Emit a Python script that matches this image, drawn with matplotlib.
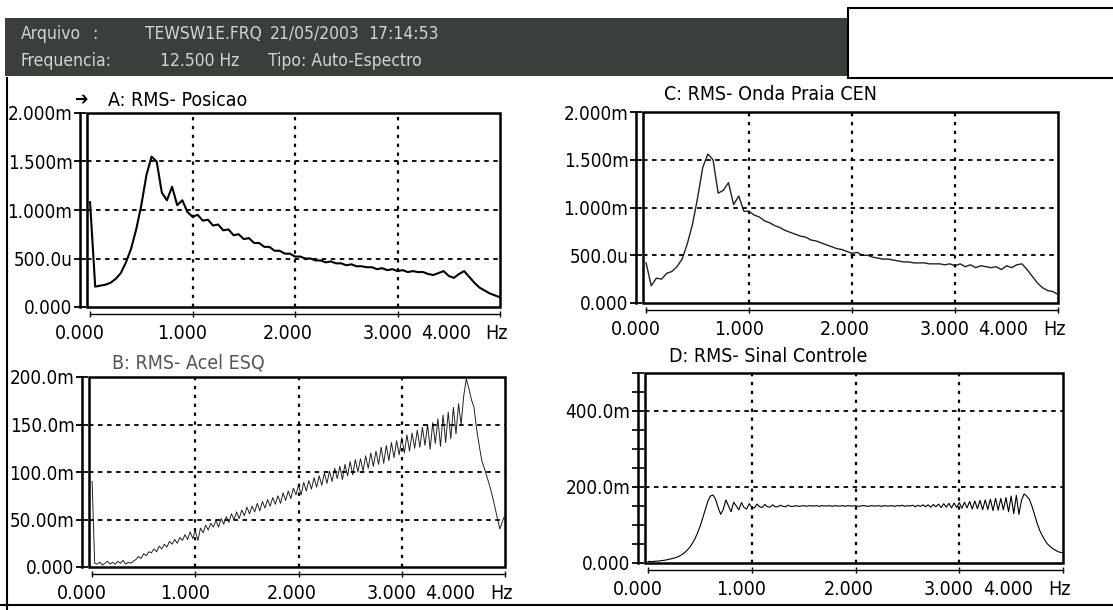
import numpy as np
import matplotlib
matplotlib.use("Agg")
import matplotlib.pyplot as plt
from matplotlib.patches import Rectangle

plt.rcParams["font.family"] = ["DejaVu Sans"]
plt.rcParams["font.stretch"] = "condensed"

W, H = 1113, 610

# --- dados (espectros RMS, 0 a 4 Hz) ---
# A: RMS- Posicao  (em mm, 1 ponto a cada 0.05 Hz)
pos_a = [1.08, 0.21, 0.22, 0.23, 0.25, 0.29, 0.35, 0.46, 0.60, 0.80,
         1.05, 1.36, 1.55, 1.50, 1.18, 1.10, 1.24, 1.05, 1.10, 0.98,
         0.93, 0.95, 0.89, 0.90, 0.84, 0.85, 0.79, 0.80, 0.74, 0.75,
         0.70, 0.71, 0.66, 0.66, 0.62, 0.62, 0.58, 0.58, 0.55, 0.55,
         0.52, 0.52, 0.50, 0.50, 0.48, 0.48, 0.46, 0.47, 0.45, 0.45,
         0.43, 0.44, 0.42, 0.42, 0.41, 0.41, 0.39, 0.40, 0.38, 0.39,
         0.37, 0.38, 0.36, 0.37, 0.36, 0.36, 0.34, 0.33, 0.35, 0.37,
         0.32, 0.30, 0.34, 0.37, 0.31, 0.25, 0.20, 0.17, 0.14, 0.12,
         0.10]

# C: RMS- Onda Praia CEN  (em mm, 0.05 Hz)
onda_c = [0.42, 0.18, 0.26, 0.25, 0.31, 0.33, 0.38, 0.46, 0.62, 0.82,
          1.10, 1.42, 1.56, 1.50, 1.15, 1.18, 1.26, 1.03, 1.12, 0.96,
          0.96, 0.92, 0.90, 0.86, 0.84, 0.81, 0.79, 0.76, 0.74, 0.72,
          0.70, 0.69, 0.66, 0.65, 0.63, 0.61, 0.59, 0.57, 0.56, 0.54,
          0.52, 0.53, 0.50, 0.50, 0.48, 0.47, 0.46, 0.46, 0.45, 0.44,
          0.43, 0.43, 0.42, 0.42, 0.42, 0.41, 0.41, 0.41, 0.40, 0.41,
          0.39, 0.41, 0.38, 0.40, 0.37, 0.39, 0.38, 0.37, 0.38, 0.35,
          0.39, 0.37, 0.40, 0.41, 0.35, 0.28, 0.21, 0.16, 0.13, 0.12,
          0.09]

# B: RMS- Acel ESQ  (em m-unidades, 0.025 Hz)
acel_b = [90, 4, 3, 5, 2, 4, 6, 3,
          5, 3, 6, 4, 7, 3, 5, 4,
          6, 8, 11, 9, 14, 12, 16, 15,
          19, 16, 22, 19, 24, 21, 27, 24,
          29, 25, 31, 28, 34, 29, 37, 30,
          38, 28, 41, 36, 44, 39, 46, 42,
          49, 42, 51, 45, 53, 47, 56, 50,
          58, 51, 60, 54, 63, 56, 64, 58,
          67, 59, 69, 62, 71, 64, 73, 66,
          75, 67, 78, 70, 80, 72, 83, 76,
          86, 76, 89, 80, 91, 82, 94, 84,
          96, 86, 99, 88, 101, 90, 104, 93,
          106, 92, 108, 96, 111, 97, 113, 100,
          114, 101, 117, 104, 120, 106, 122, 108,
          126, 109, 128, 112, 131, 115, 133, 118,
          136, 120, 139, 122, 141, 125, 144, 126,
          147, 128, 150, 124, 152, 130, 156, 127,
          160, 131, 163, 135, 168, 140, 172, 150,
          180, 198, 188, 176, 168, 145, 128, 112,
          104, 95, 86, 76, 64, 52, 40, 48, 55]

# D: RMS- Sinal Controle  (em m-unidades, 0.025 Hz)
sinal_d = [4, 4, 4, 5, 5, 6, 7, 8,
           10, 11, 13, 15, 18, 22, 27, 33,
           41, 51, 63, 78, 96, 117, 140, 162,
           176, 179, 168, 146, 128, 142, 166, 150,
           135, 160, 150, 140, 159, 146, 142, 156,
           147, 145, 155, 148, 146, 154, 148, 147,
           153, 148, 148, 152, 149, 148, 152, 149,
           149, 151, 149, 150, 151, 149, 151, 150,
           150, 151, 149, 151, 150, 150, 151, 149,
           151, 150, 150, 151, 149, 151, 150, 150,
           151, 149, 150, 151, 150, 149, 151, 150,
           150, 151, 149, 151, 150, 150, 151, 149,
           151, 150, 152, 149, 151, 150, 152, 148,
           152, 149, 153, 148, 153, 147, 154, 148,
           155, 146, 156, 147, 157, 145, 158, 146,
           159, 144, 160, 145, 162, 142, 163, 143,
           165, 140, 166, 141, 168, 138, 170, 139,
           170, 140, 172, 135, 176, 130, 178, 128,
           165, 182, 176, 168, 150, 128, 105, 86,
           72, 60, 50, 44, 38, 34, 30, 28, 27]

x_ticks = [0, 1, 2, 3, 4]
x_labels = ["0.000", "1.000", "2.000", "3.000", "4.000", "Hz"]
x_label_pos = [-0.1, 0.9, 1.93, 2.9, 3.47, 3.97]

yt_ac = [0, 0.5, 1.0, 1.5, 2.0]
yl_ac = ["0.000", "500.0u", "1.000m", "1.500m", "2.000m"]
yt_b = [0, 50, 100, 150, 200]
yl_b = ["0.000", "50.00m", "100.0m", "150.0m", "200.0m"]
yt_d = [0, 200, 400]
yl_d = ["0.000", "200.0m", "400.0m"]


def px(x, y):
    return x / W, 1 - y / H


def box(l, t, r, b):
    return [l / W, 1 - b / H, (r - l) / W, (b - t) / H]


fig = plt.figure(figsize=(W / 100, H / 100), dpi=100)

# cabecalho escuro
fig.patches.append(Rectangle(px(5, 76), 843 / W, 58 / H, transform=fig.transFigure,
                             facecolor="#3a3f3c", edgecolor="none"))
fig.patches.append(Rectangle(px(848, 78), 300 / W, 70 / H, transform=fig.transFigure,
                             facecolor="white", edgecolor="black", lw=1.5))
hc = "#d2d6d2"
for txt, x, y in [("Arquivo", 21, 34), (":", 92, 34), ("TEWSW1E.FRQ", 145, 34),
                  ("21/05/2003", 270, 34), ("17:14:53", 368, 34),
                  ("Frequencia:", 21, 61), ("12.500 Hz", 160, 61),
                  ("Tipo: Auto-Espectro", 268, 61)]:
    fig.text(*px(x, y), txt, color=hc, fontsize=12.5, va="center", ha="left")

# moldura externa
fig.add_artist(plt.Line2D([7 / W, 7 / W], [0, 1 - 78 / H], color="black", lw=1.5))
fig.add_artist(plt.Line2D([0, 1], [1 - 605 / H, 1 - 605 / H], color="black", lw=1.5))


def panel(rect, x, y, ymax, yt, yl, lw, color, minor=None):
    ax = fig.add_axes(rect)
    ax.plot(x, y, color=color, lw=lw)
    ax.set_xlim(-0.03, 4.0)
    ax.set_ylim(0, ymax)
    for s in ["top", "right"]:
        ax.spines[s].set_visible(False)
    ax.add_patch(Rectangle((0, 0), 1, 1, transform=ax.transAxes, fill=False,
                           lw=1.8, edgecolor="black", clip_on=False))
    ax.spines["left"].set_position(("outward", 5))
    ax.spines["left"].set_linewidth(1.8)
    ax.spines["left"].set_bounds(0, ymax)
    ax.spines["bottom"].set_position(("outward", 5))
    ax.spines["bottom"].set_linewidth(1.0)
    ax.spines["bottom"].set_bounds(0, 4)
    ax.set_yticks(yt)
    ax.set_yticklabels(yl, fontsize=13.5)
    if minor is not None:
        ax.set_yticks(minor, minor=True)
        ax.tick_params(axis="y", which="minor", direction="inout", length=8, width=1.2)
    ax.tick_params(axis="y", direction="inout", length=9, width=1.3, pad=1)
    ax.set_xticks(x_ticks)
    ax.set_xticklabels([])
    ax.tick_params(axis="x", direction="inout", length=4, width=1.0)
    for g in yt[1:]:
        if g < ymax:
            ax.axhline(g, color="black", lw=1.3, ls=(0, (2.5, 2.5)))
    for g in x_ticks[1:4]:
        ax.axvline(g, color="black", lw=1.6, ls=(0, (1.5, 2.5)))
    for lbl, xp in zip(x_labels, x_label_pos):
        ax.annotate(lbl, xy=(xp, 0), xycoords=("data", "axes fraction"),
                    xytext=(0, -19), textcoords="offset points",
                    ha="center", va="center", fontsize=14)
    return ax


panel(box(87, 113, 500, 307), np.linspace(0, 4, len(pos_a)), pos_a, 2.0,
      yt_ac, yl_ac, 1.5, "black")
panel(box(643, 112, 1058, 303), np.linspace(0, 4, len(onda_c)), onda_c, 2.0,
      yt_ac, yl_ac, 1.0, "#222222")
panel(box(89, 377, 505, 567), np.linspace(0, 4, len(acel_b)), acel_b, 200,
      yt_b, yl_b, 0.7, "#222222")
panel(box(645, 373, 1063, 563), np.linspace(0, 4, len(sinal_d)), sinal_d, 500,
      yt_d, yl_d, 0.8, "black", minor=[50, 100, 150, 250, 300, 350, 450, 500])

# titulos
fig.text(*px(74, 100), "\u2794", fontsize=13, va="center", ha="left")
fig.text(*px(108, 100), "A: RMS- Posicao", fontsize=14, va="center", ha="left")
fig.text(*px(664, 95), "C: RMS- Onda Praia CEN", fontsize=14, va="center", ha="left")
fig.text(*px(112, 363), "B: RMS- Acel ESQ", fontsize=14, va="center", ha="left", color="#555555")
fig.text(*px(669, 357), "D: RMS- Sinal Controle", fontsize=14, va="center", ha="left")

fig.savefig("out.png", dpi=100, facecolor="white")
